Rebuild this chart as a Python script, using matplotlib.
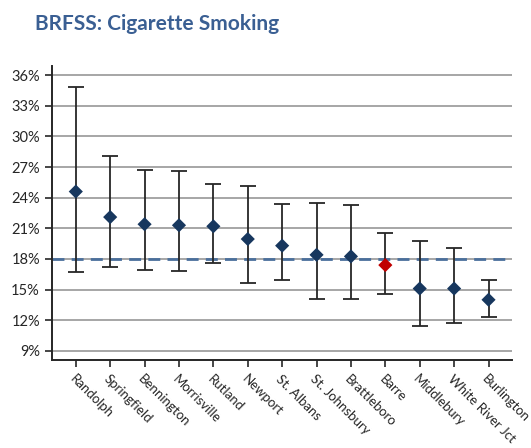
import matplotlib.pyplot as plt
import numpy as np

# BRFSS cigarette smoking prevalence by health district, with 95% CIs
districts = ['Randolph', 'Springfield', 'Bennington', 'Morrisville', 'Rutland',
             'Newport', 'St. Albans', 'St. Johnsbury', 'Brattleboro', 'Barre',
             'Middlebury', 'White River Jct', 'Burlington']
estimate = [24.6, 22.1, 21.4, 21.3, 21.2, 19.95, 19.3, 18.4, 18.25, 17.4, 15.1, 15.1, 14.0]
ci_low = [16.7, 17.2, 16.95, 16.85, 17.6, 15.65, 15.9, 14.1, 14.1, 14.6, 11.4, 11.75, 12.3]
ci_high = [34.8, 28.1, 26.7, 26.6, 25.3, 25.15, 23.35, 23.5, 23.3, 20.5, 19.8, 19.1, 15.95]
highlight = 'Barre'
state_rate = 18.0
yticks = [9, 12, 15, 18, 21, 24, 27, 30, 33, 36]

plt.rcParams['font.family'] = ['Lato', 'DejaVu Sans']

fig = plt.figure(figsize=(5.31, 4.48), dpi=100)
ax = fig.add_axes([0.0974, 0.1964, 0.866, 0.6563])

x = np.arange(len(districts))
est = np.array(estimate)
lo = est - np.array(ci_low)
hi = np.array(ci_high) - est

# horizontal grid
for t in yticks:
    ax.axhline(t, color='#a6a6a6', lw=1.4, zorder=0)

# statewide reference line
ax.axhline(state_rate, color='#4a6f9c', lw=2.0, dashes=(4.3, 2.6), zorder=1)

ax.errorbar(x, est, yerr=[lo, hi], fmt='none', ecolor='#262626',
            elinewidth=1.3, capsize=5.5, capthick=1.3, zorder=2)

colors = ['#c00000' if d == highlight else '#17375e' for d in districts]
ax.scatter(x, est, marker='D', s=52, c=colors, zorder=3, linewidths=0)

ax.set_xlim(-0.7, 12.67)
ax.set_ylim(8.1, 36.9)
ax.set_yticks(yticks)
ax.set_yticklabels([f'{t}%' for t in yticks], fontsize=10.5, color='#262626')
ax.set_xticks(x)
ax.set_xticklabels(districts, rotation=-45, ha='left', va='top',
                   rotation_mode='anchor', fontsize=9.5, color='#262626')
ax.tick_params(axis='both', direction='out', length=5, width=1.2, color='#262626')
ax.tick_params(axis='x', pad=4)

for s in ['top', 'right']:
    ax.spines[s].set_visible(False)
for s in ['left', 'bottom']:
    ax.spines[s].set_color('#262626')
    ax.spines[s].set_linewidth(1.4)

fig.text(0.066, 0.946, 'BRFSS: Cigarette Smoking', fontsize=15, fontweight='bold',
         color='#3a5f93', ha='left', va='center')

fig.savefig('out.png', dpi=100)
